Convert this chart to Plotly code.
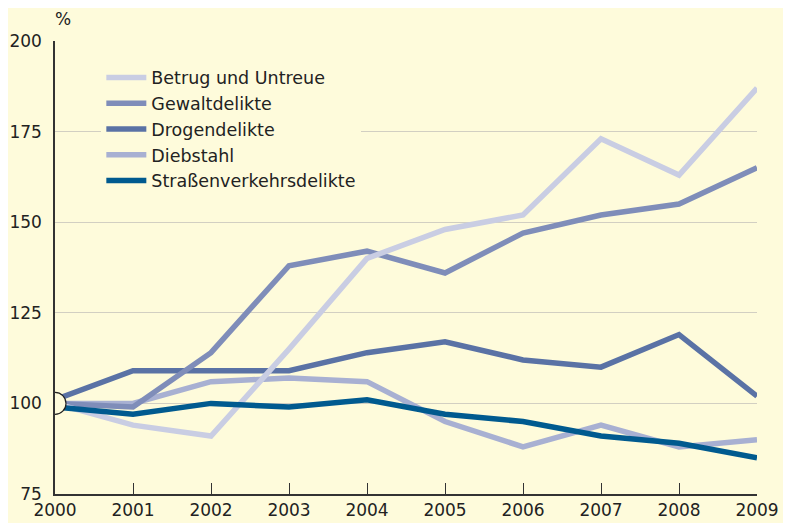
import plotly.graph_objects as go

years = [2000, 2001, 2002, 2003, 2004, 2005, 2006, 2007, 2008, 2009]
betrug = [100, 94, 91, 115, 140, 148, 152, 173, 163, 187]
gewalt = [100, 99, 114, 138, 142, 136, 147, 152, 155, 165]
drogen = [101, 109, 109, 109, 114, 117, 112, 110, 119, 102]
diebstahl = [100, 100, 106, 107, 106, 95, 88, 94, 88, 90]
strasse = [99, 97, 100, 99, 101, 97, 95, 91, 89, 85]

names = ["Betrug und Untreue", "Gewaltdelikte", "Drogendelikte", "Diebstahl", "Straßenverkehrsdelikte"]
colors = ["#C9CDE3", "#7F8DB9", "#5A72A5", "#A8B0D2", "#005A8F"]
series = [betrug, gewalt, drogen, diebstahl, strasse]
ytick_vals = [75, 100, 125, 150, 175, 200]

BG = "#FEFBDB"
FONT = "DejaVu Sans, Open Sans, sans-serif"
fig = go.Figure()
draw_order = [3, 2, 1, 0, 4]
for i in draw_order:
    fig.add_trace(go.Scatter(
        x=years, y=series[i], name=names[i], mode="lines",
        line=dict(color=colors[i], width=5.5),
        legendrank=i + 1,
    ))

fig.update_layout(
    width=791, height=523,
    paper_bgcolor=BG, plot_bgcolor=BG,
    margin=dict(l=47, r=42, t=33, b=37, pad=0),
    font=dict(family=FONT, size=17, color="#222222"),
    showlegend=True,
    legend=dict(
        x=0.066, y=0.959, xanchor="left", yanchor="top",
        bgcolor=BG, font=dict(family=FONT, size=17.5, color="#222222"),
        tracegroupgap=0, itemwidth=40,
    ),
    xaxis=dict(
        range=[2000, 2009], tickvals=years, ticktext=[str(y) for y in years],
        showgrid=False, zeroline=False, showline=True, linecolor="#333333", linewidth=1.5,
        ticks="inside", ticklen=11, tickcolor="#333333", tickwidth=1.2,
        tickfont=dict(size=17), fixedrange=True, automargin=False,
    ),
    yaxis=dict(
        range=[75, 200], tickvals=ytick_vals,
        showgrid=True, gridcolor="#D2CFC2", gridwidth=1.2,
        zeroline=False, showline=True, linecolor="#333333", linewidth=1.5,
        ticks="", ticklabelstandoff=8, tickfont=dict(size=17), fixedrange=True,
        automargin=False,
    ),
)

fig.add_shape(
    type="circle", xref="x", yref="y", xsizemode="pixel", ysizemode="pixel",
    xanchor=2000, yanchor=100, x0=-11, x1=11, y0=-11, y1=11,
    fillcolor=BG, line=dict(color="#222222", width=1.2), layer="above",
)

fig.add_annotation(
    text="%", xref="paper", yref="paper", x=0, y=1, xanchor="left", yanchor="bottom",
    xshift=-2, yshift=10, showarrow=False, font=dict(size=17, color="#222222"),
)

fig.write_html("out.html")
